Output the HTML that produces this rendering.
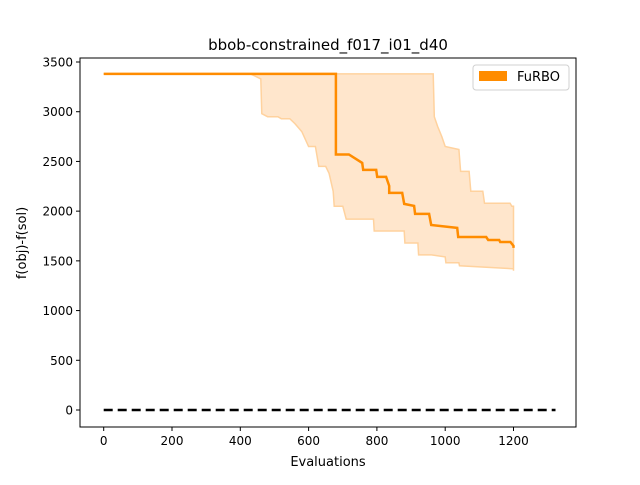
<!DOCTYPE html>
<html><head><meta charset="utf-8"><style>
body{margin:0;background:#fff;font-family:"Liberation Sans","DejaVu Sans",sans-serif}
svg text{font-family:"DejaVu Sans","Liberation Sans",sans-serif;fill:#000}
</style></head><body>
<svg id="chart" width="640" height="480"></svg>
<script>
const medX=[0,680,680,718,757,760,798,801,827,836,836,874,880,909,912,953,959,1035,1038,1120,1126,1158,1161,1191,1200,1200];
const medY=[3380,3380,2570,2570,2485,2415,2415,2344,2344,2254,2183,2183,2073,2053,1972,1972,1861,1831,1740,1740,1710,1710,1690,1690,1650,1630];
const upX=[0,965,968,978,990,1000,1040,1045,1070,1075,1110,1115,1190,1195,1200,1200];
const upY=[3380,3380,2950,2850,2750,2650,2620,2400,2400,2200,2200,2080,2080,2050,2050,1400];
const loX=[0,430,460,463,480,510,520,545,560,580,600,620,630,650,660,672,675,700,710,790,792,880,882,920,922,960,1000,1002,1040,1042,1200];
const loY=[3380,3380,3330,2980,2950,2950,2930,2930,2880,2800,2650,2650,2450,2450,2380,2200,2050,2050,1920,1920,1800,1800,1680,1680,1560,1560,1540,1480,1480,1450,1420];
const xTicks=[0,200,400,600,800,1000,1200];
const yTicks=[0,500,1000,1500,2000,2500,3000,3500];
const L=80,R=576,T=58,B=427;
const sx=v=>103.7+v*(68.3/200);
const sy=v=>410-v*(348/3500);
const svg=document.getElementById('chart');
const NS='http://www.w3.org/2000/svg';
function mk(t,a,txt){const e=document.createElementNS(NS,t);for(const k in a)e.setAttribute(k,a[k]);if(txt!==undefined)e.textContent=txt;svg.appendChild(e);return e;}
function stepPath(xs,ys){return xs.map((x,i)=>(i?'L':'M')+sx(x).toFixed(1)+','+sy(ys[i]).toFixed(1)).join(' ');}
let band=stepPath(upX,upY);
for(let i=loX.length-1;i>=0;i--)band+=' L'+sx(loX[i]).toFixed(1)+','+sy(loY[i]).toFixed(1);
band+=' Z';
let e=mk('path',{d:band,fill:'#ffe6cc',stroke:'#ffd29e','stroke-width':1.5});


e=mk('path',{d:stepPath(medX,medY),fill:'none',stroke:'#ff8c00','stroke-width':2.5});


e=mk('line',{x1:sx(0),y1:sy(0),x2:sx(1323),y2:sy(0),stroke:'#000','stroke-width':2.5,'stroke-dasharray':'9,5'});


e=mk('rect',{x:L,y:T,width:R-L,height:B-T,fill:'none',stroke:'#000','stroke-width':1});


xTicks.forEach(v=>{const x=sx(v);mk('line',{x1:x,y1:B,x2:x,y2:B+4,stroke:'#000'});
const t=mk('text',{x:x,y:B+18,'text-anchor':'middle','font-size':12},v);

});
yTicks.forEach(v=>{const y=sy(v);mk('line',{x1:L,y1:y,x2:L-4,y2:y,stroke:'#000'});
const t=mk('text',{x:L-7,y:y+4.5,'text-anchor':'end','font-size':12},v);

});
e=mk('text',{x:328,y:466,'text-anchor':'middle','font-size':13},'Evaluations');


e=mk('text',{x:26,y:243,'text-anchor':'middle','font-size':13,transform:'rotate(-90 26 243)'},'f(obj)-f(sol)');


e=mk('text',{x:328,y:50,'text-anchor':'middle','font-size':15},'bbob-constrained_f017_i01_d40');


e=mk('rect',{x:473,y:65,width:96,height:25,rx:3,fill:'#fff',stroke:'#d0d0d0'});


e=mk('rect',{x:479,y:71,width:28,height:10,fill:'#ff8c00'});


e=mk('text',{x:517,y:81,'font-size':13},'FuRBO');


</script>
</body></html>
